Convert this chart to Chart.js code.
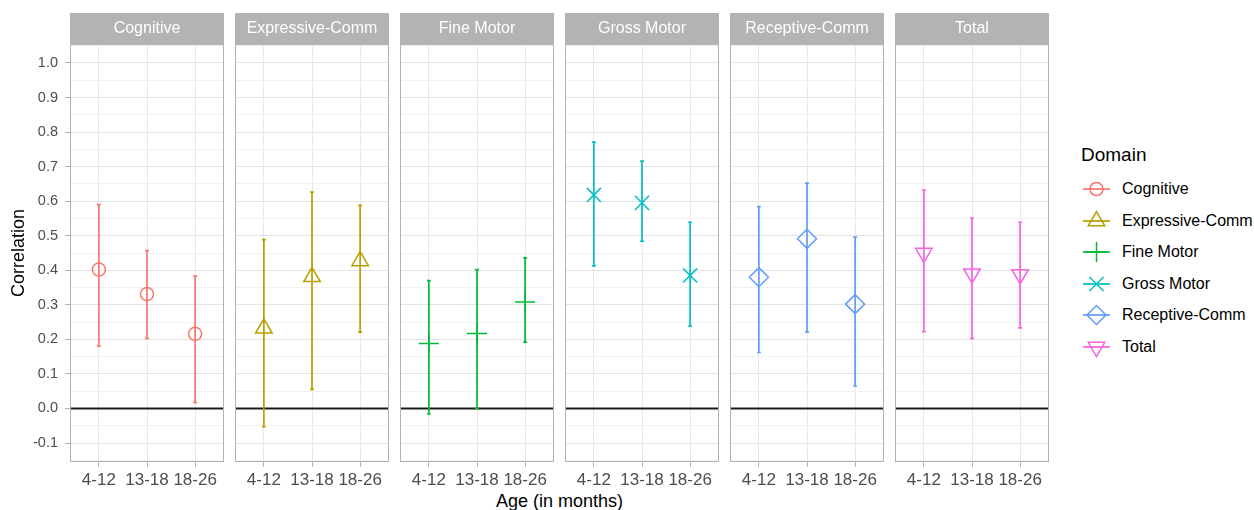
<!DOCTYPE html>
<html>
<head>
<meta charset="utf-8">
<script src="https://cdn.jsdelivr.net/npm/chart.js@4.4.1/dist/chart.umd.min.js"></script>
<style>
  body { margin: 0; background: #fff; font-family: "Liberation Sans", Arial, sans-serif; }
  #wrap { position: relative; width: 1254px; height: 510px; overflow: hidden; }
  .panel { position: absolute; top: 13px; }
  #xtitle { position: absolute; left: 70px; width: 979px; top: 491px; line-height: 21px; text-align: center; font-size: 18px; color: #000; white-space: nowrap; }
  #legend { position: absolute; left: 1081px; top: 143px; white-space: nowrap; }
  #legend .ttl { font-size: 19px; color: #000; height: 30px; line-height: 24px; }
  #legend .row { position: relative; height: 31.6px; }
  #legend canvas { position: absolute; left: 1px; top: 4px; }
  #legend span { position: absolute; left: 41px; top: 7px; font-size: 16px; line-height: 18px; color: #000; }
</style>
</head>
<body>
<div id="wrap">
  <div id="xtitle">Age (in months)</div>
  <div id="legend"><div class="ttl">Domain</div></div>
</div>
<script>
const domains = ["Cognitive", "Expressive-Comm", "Fine Motor", "Gross Motor", "Receptive-Comm", "Total"];
const ages = ["4-12", "13-18", "18-26"];
const yTicks = [-0.1, 0, 0.1, 0.2, 0.3, 0.4, 0.5, 0.6, 0.7, 0.8, 0.9, 1.0];

// one row per domain, one value per age group
const corr = [
  [0.402, 0.331, 0.216],
  [0.232, 0.381, 0.427],
  [0.188, 0.217, 0.308],
  [0.618, 0.595, 0.385],
  [0.380, 0.491, 0.302],
  [0.450, 0.390, 0.388],
];
const lower = [
  [0.180, 0.203, 0.017],
  [-0.053, 0.055, 0.221],
  [-0.016, 0.000, 0.192],
  [0.413, 0.484, 0.238],
  [0.162, 0.221, 0.065],
  [0.222, 0.203, 0.233],
];
const upper = [
  [0.590, 0.457, 0.383],
  [0.489, 0.626, 0.588],
  [0.370, 0.402, 0.436],
  [0.771, 0.716, 0.539],
  [0.584, 0.652, 0.496],
  [0.632, 0.551, 0.539],
];

const colors = ["#F8766D", "#B79F00", "#00BA38", "#00BFC4", "#619CFF", "#F564E3"];
const shapes = ["circle", "triangle", "cross", "crossRot", "rectRot", "triangle"];
const rotations = [0, 0, 0, 0, 0, 180];
const radii = [6.5, 9.5, 10, 10, 9.5, 9.5];

Chart.defaults.font.family = '"Liberation Sans", Arial, sans-serif';

const isMajor = v => Math.abs(v * 10 - Math.round(v * 10)) < 1e-6;

// strip on top + panel border
const panelDeco = {
  id: "panelDeco",
  beforeDraw(chart) {
    const { ctx, chartArea: a } = chart;
    ctx.save();
    ctx.fillStyle = "#B3B3B3";
    ctx.fillRect(a.left, 0, a.right - a.left, a.top);
    ctx.restore();
  },
  afterDraw(chart) {
    const { ctx, chartArea: a } = chart;
    ctx.save();
    ctx.strokeStyle = "#B3B3B3";
    ctx.lineWidth = 1;
    ctx.strokeRect(a.left + 0.5, a.top + 0.5, a.right - a.left - 1, a.bottom - a.top - 1);
    ctx.restore();
  }
};

// zero line and error bars, drawn under the points
const errorBars = {
  id: "errorBars",
  beforeDatasetsDraw(chart, args, opts) {
    const { ctx, chartArea: a, scales: { x, y } } = chart;
    const d = opts.index;
    ctx.save();
    const y0 = y.getPixelForValue(0);
    ctx.strokeStyle = "#1A1A1A";
    ctx.lineWidth = 2;
    ctx.beginPath();
    ctx.moveTo(a.left, y0);
    ctx.lineTo(a.right, y0);
    ctx.stroke();

    ctx.strokeStyle = colors[d];
    ctx.lineWidth = 1.7;
    ages.forEach((age, i) => {
      const px = x.getPixelForValue(i + 1);
      const cl = x.getPixelForValue(i + 1 - 0.04);
      const cr = x.getPixelForValue(i + 1 + 0.04);
      const yl = y.getPixelForValue(lower[d][i]);
      const yh = y.getPixelForValue(upper[d][i]);
      ctx.beginPath();
      ctx.moveTo(px, yl); ctx.lineTo(px, yh);
      ctx.moveTo(cl, yl); ctx.lineTo(cr, yl);
      ctx.moveTo(cl, yh); ctx.lineTo(cr, yh);
      ctx.stroke();
    });
    ctx.restore();
  }
};

const wrap = document.getElementById("wrap");

domains.forEach((name, d) => {
  const first = d === 0;
  const left = first ? 0 : 70 + 165 * d;
  const width = first ? 224 : 154;
  const box = document.createElement("div");
  box.className = "panel";
  box.style.left = left + "px";
  const cv = document.createElement("canvas");
  cv.width = width;
  cv.height = 485;
  box.appendChild(cv);
  wrap.appendChild(box);

  new Chart(cv, {
    type: "scatter",
    data: {
      datasets: [{
        label: name,
        data: corr[d].map((v, i) => ({ x: i + 1, y: v })),
        borderColor: colors[d],
        backgroundColor: "rgba(0,0,0,0)",
        pointStyle: shapes[d],
        rotation: rotations[d],
        pointRadius: radii[d],
        pointHoverRadius: radii[d],
        borderWidth: 1.5,
      }],
    },
    options: {
      responsive: false,
      animation: false,
      events: [],
      layout: { padding: 0, autoPadding: false },
      plugins: {
        legend: { display: false },
        tooltip: { enabled: false },
        title: {
          display: true,
          text: name,
          color: "#FFFFFF",
          fullSize: false,
          font: { size: 16, weight: "normal", lineHeight: "19px" },
          padding: { top: 6, bottom: 6 },
        },
        errorBars: { index: d },
      },
      scales: {
        x: {
          type: "linear",
          min: 0.4,
          max: 3.6,
          afterBuildTicks: s => { s.ticks = ages.map((a, i) => ({ value: i + 1 })); },
          afterFit: s => { s.height = 36; },
          border: { display: false },
          grid: { color: "#E8E8E8", lineWidth: 1, tickColor: "#B3B3B3", tickLength: 5 },
          ticks: {
            padding: 3,
            color: "#4D4D4D",
            font: { size: 17 },
            maxRotation: 0,
            autoSkip: false,
            callback: v => ages[Math.round(v) - 1],
          },
        },
        y: {
          min: -0.155,
          max: 1.055,
          afterBuildTicks: s => {
            const t = [];
            yTicks.forEach(v => t.push({ value: v }));
            for (let k = 0; k < yTicks.length - 1; k++) t.push({ value: (yTicks[k] + yTicks[k + 1]) / 2 });
            t.push({ value: yTicks[0] - 0.05 }, { value: yTicks[yTicks.length - 1] + 0.05 });
            t.sort((a, b) => a.value - b.value);
            s.ticks = t;
          },
          afterFit: s => { s.width = first ? 70 : 0; },
          border: { display: false },
          grid: {
            color: c => isMajor(c.tick.value) ? "#E3E3E3" : "#F1F1F1",
            lineWidth: 1,
            drawTicks: first,
            tickLength: 5,
            tickColor: c => isMajor(c.tick.value) ? "#B3B3B3" : "rgba(0,0,0,0)",
          },
          ticks: {
            display: first,
            padding: 7,
            color: "#4D4D4D",
            font: { size: 14.5 },
            autoSkip: false,
            callback: v => isMajor(v) && v > -0.125 && v < 1.025 ? (Math.round(v * 10) / 10).toFixed(1) : "",
          },
          title: {
            display: first,
            text: "Correlation",
            color: "#000000",
            font: { size: 18 },
            padding: { top: 8, bottom: 0 },
          },
        },
      },
    },
    plugins: [panelDeco, errorBars],
  });
});

// legend: key = horizontal line + marker
function drawMarker(ctx, style, x, y, r, rot) {
  ctx.beginPath();
  if (style === "circle") {
    ctx.arc(x, y, r, 0, Math.PI * 2);
  } else if (style === "triangle") {
    let a = rot * Math.PI / 180;
    for (let k = 0; k < 3; k++) {
      const px = x + Math.sin(a) * r, py = y - Math.cos(a) * r;
      k === 0 ? ctx.moveTo(px, py) : ctx.lineTo(px, py);
      a += Math.PI * 2 / 3;
    }
    ctx.closePath();
  } else if (style === "cross") {
    ctx.moveTo(x - r, y); ctx.lineTo(x + r, y);
    ctx.moveTo(x, y - r); ctx.lineTo(x, y + r);
  } else if (style === "crossRot") {
    const o = r * Math.SQRT1_2;
    ctx.moveTo(x - o, y - o); ctx.lineTo(x + o, y + o);
    ctx.moveTo(x - o, y + o); ctx.lineTo(x + o, y - o);
  } else if (style === "rectRot") {
    ctx.moveTo(x, y - r); ctx.lineTo(x + r, y); ctx.lineTo(x, y + r); ctx.lineTo(x - r, y);
    ctx.closePath();
  }
  ctx.stroke();
}

const legend = document.getElementById("legend");
domains.forEach((name, d) => {
  const row = document.createElement("div");
  row.className = "row";
  const c = document.createElement("canvas");
  c.width = 30; c.height = 24;
  const g = c.getContext("2d");
  g.strokeStyle = colors[d];
  g.lineWidth = 1.7;
  g.beginPath(); g.moveTo(1, 12); g.lineTo(28, 12); g.stroke();
  g.lineWidth = 1.5;
  drawMarker(g, shapes[d], 14.5, 12, radii[d], rotations[d]);
  const s = document.createElement("span");
  s.textContent = name;
  row.appendChild(c);
  row.appendChild(s);
  legend.appendChild(row);
});
</script>
</body>
</html>
